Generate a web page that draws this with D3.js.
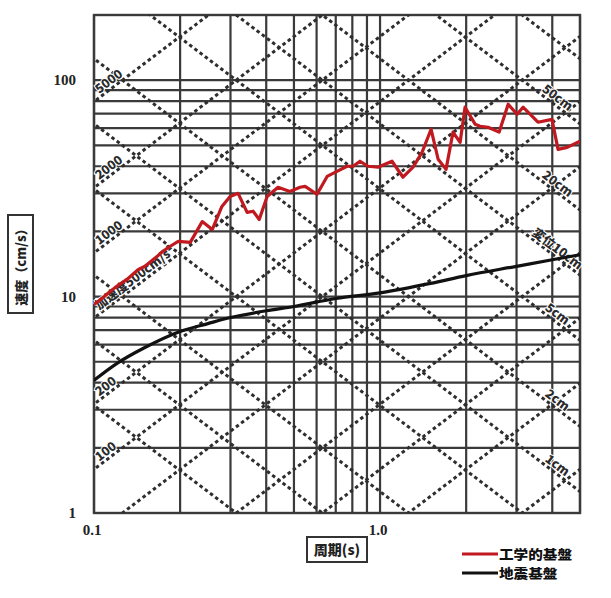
<!DOCTYPE html>
<html><head><meta charset="utf-8">
<script src="https://cdn.jsdelivr.net/npm/d3@7"></script>
<style>
html,body{margin:0;padding:0;background:#fff;}
svg{display:block;}
</style></head>
<body>
<script>
// ---- data ----
const xTickValues = [0.1, 1.0];
const xTickLabels = ["0.1", "1.0"];
const yTickValues = [1, 10, 100];
const yTickLabels = ["1", "10", "100"];
const xGridValues = [0.1,0.2,0.3,0.4,0.5,0.6,0.7,0.8,0.9,1,2,3,4,5];
const yGridValues = [1,2,3,4,5,6,7,8,9,10,20,30,40,50,60,70,80,90,100,200];
const accValues = [2,5,10,20,50,100,200,500,1000,2000,5000];          // cm/s²
const dispValues = [0.05,0.1,0.2,0.5,1,2,5,10,20,50,100];              // cm
const accLabelValues = [5000,2000,1000,500,200,100];
const accLabelTexts = ["5000","2000","1000","加速度500cm/s²","200","100"];
const dispLabelValues = [50,20,10,5,2,1];
const dispLabelTexts = ["50cm","20cm","変位10cm","5cm","2cm","1cm"];

// 工学的基盤 (engineering bedrock)
const engPeriod = [0.1,0.1075,0.1184,0.1304,0.1425,0.1507,0.166,0.174,0.189,0.197,0.217,0.239,0.259,0.280,0.299,0.319,0.343,0.360,0.378,0.403,0.440,0.484,0.525,0.547,0.602,0.653,0.696,0.767,0.805,0.851,0.908,0.984,1.101,1.203,1.304,1.402,1.508,1.596,1.701,1.799,1.905,1.982,2.149,2.238,2.386,2.607,2.805,3.013,3.162,3.565,3.99,4.19,4.51,5.0];
const engVel = [9.2,9.9,11.0,12.0,13.3,13.8,15.3,16.2,17.4,18.0,17.8,22.2,20.4,26.1,29.0,30.0,24.5,24.8,22.7,29.0,32.0,30.6,32.0,32.3,29.7,35.9,37.5,40.0,40.0,42.2,40.0,39.6,42.2,35.6,39.6,46.4,59.3,43.1,38.7,57.5,51.6,75.0,62.6,61.2,60.6,57.5,77.4,69.6,75.0,63.9,65.9,47.9,48.9,52.2];
// 地震基盤 (seismic bedrock)
const seisPeriod = [0.1,0.12,0.15,0.2,0.25,0.3,0.4,0.5,0.7,1.0,1.5,2.0,3.0,4.0,5.0];
const seisVel = [4.1,4.9,5.8,6.9,7.5,8.0,8.6,9.0,9.8,10.4,11.5,12.5,13.8,14.8,15.6];

const seriesNames = ["工学的基盤","地震基盤"];
const seriesColors = ["#c0191f","#111111"];

// ---- layout ----
const W = 611, H = 598;
const pL = 94, pR = 580, pT = 15, pB = 513;
const x = d3.scaleLog().domain([0.1, 5]).range([pL, pR]);
const y = d3.scaleLog().domain([1, 200]).range([pB, pT]);
const gridColor = "#3a3a3a";
const numFont = "'Liberation Serif','DejaVu Serif',serif";
const jpFont = "'Noto Sans CJK JP','Noto Sans CJK SC',sans-serif";

const svg = d3.select("body").append("svg").attr("width", W).attr("height", H);
svg.append("defs").append("clipPath").attr("id","plotclip")
  .append("rect").attr("x",pL).attr("y",pT).attr("width",pR-pL).attr("height",pB-pT);

// grid
const g = svg.append("g");
g.selectAll("line.vg").data(xGridValues).join("line").attr("class","vg")
  .attr("x1", d=>x(d)).attr("x2", d=>x(d)).attr("y1", pT).attr("y2", pB)
  .attr("stroke", gridColor).attr("stroke-width", 2.2);
g.selectAll("line.hg").data(yGridValues).join("line").attr("class","hg")
  .attr("x1", pL).attr("x2", pR).attr("y1", d=>y(d)).attr("y2", d=>y(d))
  .attr("stroke", gridColor).attr("stroke-width", 2.2);
g.append("rect").attr("x",pL).attr("y",pT).attr("width",pR-pL).attr("height",pB-pT)
  .attr("fill","none").attr("stroke",gridColor).attr("stroke-width",2.4);

// tripartite diagonals
const Tspan = [0.05, 10];
const diag = svg.append("g").attr("clip-path","url(#plotclip)");
const lineGen = d3.line().x(d=>x(d[0])).y(d=>y(d[1]));
const dashColor = "#2e2e2e";
diag.selectAll("path.acc").data(accValues).join("path").attr("class","acc")
  .attr("d", A => lineGen(Tspan.map(T=>[T, A*T/(2*Math.PI)])))
  .attr("fill","none").attr("stroke",dashColor).attr("stroke-width",3).attr("stroke-dasharray","3.5,3");
diag.selectAll("path.disp").data(dispValues).join("path").attr("class","disp")
  .attr("d", D => lineGen(Tspan.map(T=>[T, 2*Math.PI*D/T])))
  .attr("fill","none").attr("stroke",dashColor).attr("stroke-width",3).attr("stroke-dasharray","3.5,3");

// diagonal labels
const pxPerDecX = (pR-pL)/Math.log10(50);
const pxPerDecY = (pB-pT)/Math.log10(200);
const ang = Math.atan(pxPerDecY/pxPerDecX)*180/Math.PI;
const accLabelT = x.invert(101);
svg.selectAll("text.accl").data(accLabelValues).join("text").attr("class","accl")
  .attr("transform", (A)=>`translate(${x(accLabelT)},${y(A*accLabelT/(2*Math.PI))}) rotate(${-ang})`)
  .attr("dy", -3).attr("text-anchor","start")
  .attr("font-family", jpFont).attr("font-weight","900").attr("font-size",12.5)
  .attr("fill","#2a2a2a").attr("stroke","#fff").attr("stroke-width",2).attr("paint-order","stroke")
  .text((d,i)=>accLabelTexts[i]);
const dispLabelT = x.invert(553);
svg.selectAll("text.displ").data(dispLabelValues).join("text").attr("class","displ")
  .attr("transform", (D)=>`translate(${x(dispLabelT)},${y(2*Math.PI*D/dispLabelT)}) rotate(${ang})`)
  .attr("dy", -3).attr("text-anchor","middle")
  .attr("font-family", jpFont).attr("font-weight","900").attr("font-size",12.5)
  .attr("fill","#2a2a2a").attr("stroke","#fff").attr("stroke-width",2).attr("paint-order","stroke")
  .text((d,i)=>dispLabelTexts[i]);

// curves
const curves = svg.append("g").attr("clip-path","url(#plotclip)");
curves.append("path").datum(seisPeriod.map((t,i)=>[t, seisVel[i]]))
  .attr("d", d3.line().x(d=>x(d[0])).y(d=>y(d[1])).curve(d3.curveMonotoneX))
  .attr("fill","none").attr("stroke",seriesColors[1]).attr("stroke-width",3.2);
curves.append("path").datum(engPeriod.map((t,i)=>[t, engVel[i]]))
  .attr("d", lineGen)
  .attr("fill","none").attr("stroke",seriesColors[0]).attr("stroke-width",3.2).attr("stroke-linejoin","round");

// axis tick labels
svg.selectAll("text.yt").data(yTickValues).join("text").attr("class","yt")
  .attr("x", 76).attr("y", d=>y(d)).attr("dy","0.35em").attr("text-anchor","end")
  .attr("font-family", numFont).attr("font-weight","bold").attr("font-size",15).attr("fill","#222")
  .text((d,i)=>yTickLabels[i]);
svg.selectAll("text.xt").data(xTickValues).join("text").attr("class","xt")
  .attr("x", d=>x(d)-2).attr("y", 535).attr("text-anchor","middle")
  .attr("font-family", numFont).attr("font-weight","bold").attr("font-size",15).attr("fill","#222")
  .text((d,i)=>xTickLabels[i]);

// axis titles in boxes
svg.append("rect").attr("x",307).attr("y",537).attr("width",60).attr("height",25)
  .attr("fill","#fff").attr("stroke","#333").attr("stroke-width",2);
svg.append("text").attr("x",337).attr("y",555).attr("text-anchor","middle")
  .attr("font-family", jpFont).attr("font-weight","900").attr("font-size",14).attr("fill","#222")
  .text("周期(s)");
svg.append("rect").attr("x",8).attr("y",215).attr("width",25).attr("height",98)
  .attr("fill","#fff").attr("stroke","#333").attr("stroke-width",2);
svg.append("text").attr("transform","translate(26,264) rotate(-90)").attr("text-anchor","middle")
  .attr("font-family", jpFont).attr("font-weight","900").attr("font-size",13).attr("fill","#222")
  .text("速度（cm/s）");

// legend
const leg = svg.append("g");
const legY = [554, 573];
seriesNames.forEach((name,i)=>{
  leg.append("line").attr("x1",462).attr("x2",498).attr("y1",legY[i]).attr("y2",legY[i])
    .attr("stroke",seriesColors[i]).attr("stroke-width",3);
  leg.append("text").attr("x",499).attr("y",legY[i]).attr("dy","0.36em")
    .attr("font-family", jpFont).attr("font-weight","900").attr("font-size",13).attr("fill","#111")
    .attr("textLength", name.length*14.6).attr("lengthAdjust","spacingAndGlyphs")
    .text(name);
});
</script>
</body></html>
